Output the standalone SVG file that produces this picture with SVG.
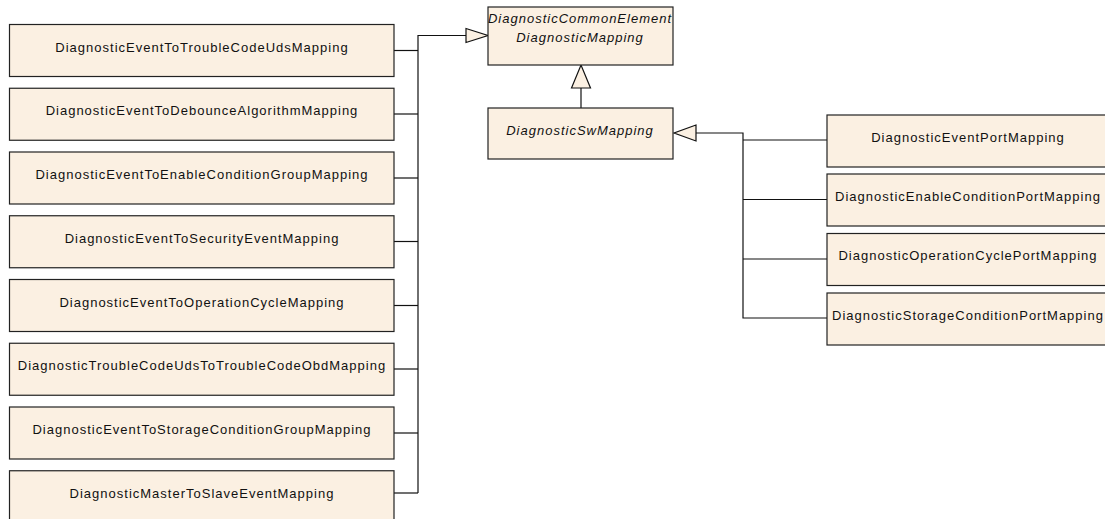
<svg xmlns="http://www.w3.org/2000/svg" width="1105" height="519" viewBox="0 0 1105 519">
<style>
.box{fill:#FBF0E2;stroke:#222;stroke-width:1.2}
.t{font-family:"Liberation Sans",Arial,sans-serif;font-size:13px;letter-spacing:1px;fill:#111;text-anchor:middle}
.i{font-style:italic}
.c{fill:none;stroke:#111;stroke-width:1.2}
.tri{fill:#FBF0E2;stroke:#111;stroke-width:1.2}
</style>
<rect width="1105" height="519" fill="#fff"/>
<g id="connectors">
<polyline class="c" points="394,50.5 418,50.5"/>
<polyline class="c" points="394,114 418,114"/>
<polyline class="c" points="394,178 418,178"/>
<polyline class="c" points="394,241.5 418,241.5"/>
<polyline class="c" points="394,305.5 418,305.5"/>
<polyline class="c" points="394,369 418,369"/>
<polyline class="c" points="394,433 418,433"/>
<polyline class="c" points="394,493 418,493"/>
<polyline class="c" points="418,493 418,35.5 466,35.5"/>
<polygon class="tri" points="466,28.5 488,35.5 466,42.5"/>
<line class="c" x1="581" y1="88" x2="581" y2="108"/>
<polygon class="tri" points="571.5,88 581,65 590.5,88"/>
<polyline class="c" points="696,133 743,133 743,318 827,318"/>
<line class="c" x1="743" y1="140" x2="827" y2="140"/>
<line class="c" x1="743" y1="199.5" x2="827" y2="199.5"/>
<line class="c" x1="743" y1="259" x2="827" y2="259"/>
<polygon class="tri" points="696,125 674,133 696,141"/>
</g>
<g id="n1"><rect class="box" x="9.5" y="24.5" width="384.5" height="52"/><text class="t" x="202" y="51.5">DiagnosticEventToTroubleCodeUdsMapping</text></g>
<g id="n2"><rect class="box" x="9.5" y="88.25" width="384.5" height="52"/><text class="t" x="202" y="115.25">DiagnosticEventToDebounceAlgorithmMapping</text></g>
<g id="n3"><rect class="box" x="9.5" y="152" width="384.5" height="52"/><text class="t" x="202" y="179">DiagnosticEventToEnableConditionGroupMapping</text></g>
<g id="n4"><rect class="box" x="9.5" y="215.75" width="384.5" height="52"/><text class="t" x="202" y="242.75">DiagnosticEventToSecurityEventMapping</text></g>
<g id="n5"><rect class="box" x="9.5" y="279.5" width="384.5" height="52"/><text class="t" x="202" y="306.5">DiagnosticEventToOperationCycleMapping</text></g>
<g id="n6"><rect class="box" x="9.5" y="343.25" width="384.5" height="52"/><text class="t" x="202" y="370.25">DiagnosticTroubleCodeUdsToTroubleCodeObdMapping</text></g>
<g id="n7"><rect class="box" x="9.5" y="407" width="384.5" height="52"/><text class="t" x="202" y="434">DiagnosticEventToStorageConditionGroupMapping</text></g>
<g id="n8"><rect class="box" x="9.5" y="470.75" width="384.5" height="52"/><text class="t" x="202" y="497.75">DiagnosticMasterToSlaveEventMapping</text></g>
<g id="common"><rect class="box" x="488" y="7" width="185" height="58"/><text class="t i" x="580" y="22.5">DiagnosticCommonElement</text><text class="t i" x="580" y="42">DiagnosticMapping</text></g>
<g id="sw"><rect class="box" x="488" y="108" width="185" height="51"/><text class="t i" x="580" y="134.5">DiagnosticSwMapping</text></g>
<g id="r1"><rect class="box" x="827" y="115" width="282" height="52"/><text class="t" x="968" y="141.7">DiagnosticEventPortMapping</text></g>
<g id="r2"><rect class="box" x="827" y="174" width="282" height="52"/><text class="t" x="968" y="200.7">DiagnosticEnableConditionPortMapping</text></g>
<g id="r3"><rect class="box" x="827" y="233.5" width="282" height="52"/><text class="t" x="968" y="260.2">DiagnosticOperationCyclePortMapping</text></g>
<g id="r4"><rect class="box" x="827" y="293" width="282" height="52"/><text class="t" x="968" y="319.7">DiagnosticStorageConditionPortMapping</text></g>
</svg>
